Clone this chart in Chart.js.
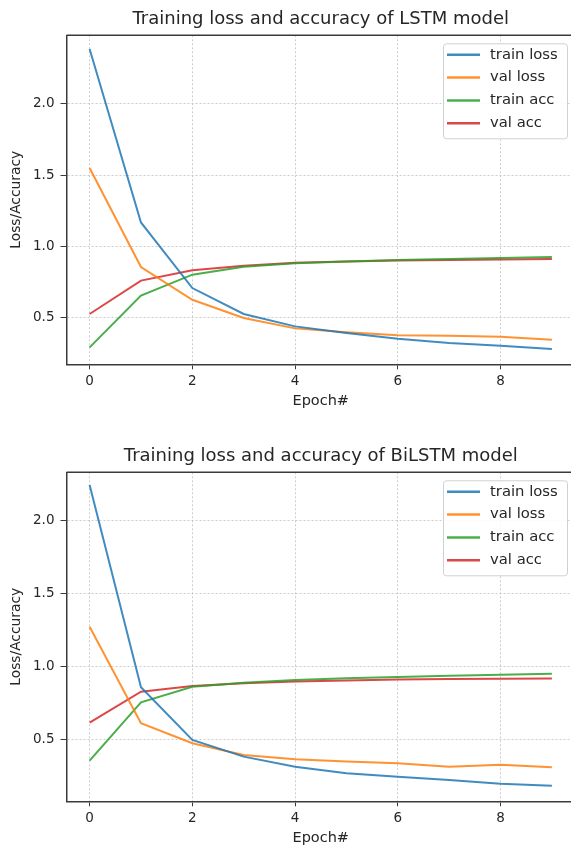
<!DOCTYPE html>
<html>
<head>
<meta charset="utf-8">
<script src="https://cdn.jsdelivr.net/npm/chart.js@4.4.1/dist/chart.umd.min.js"></script>
<style>
  html, body { margin:0; padding:0; background:#fff; width:571px; height:848px; overflow:hidden; position:relative; }
  #wrap { position:absolute; left:0; top:0; width:571px; height:848px; overflow:hidden; }
  canvas { position:absolute; left:0; }
</style>
</head>
<body>
<div id="wrap">
  <canvas id="lstmChart" width="642" height="411" style="top:0"></canvas>
  <canvas id="bilstmChart" width="642" height="411" style="top:437px"></canvas>
</div>
<script>
const EPOCHS = [0, 1, 2, 3, 4, 5, 6, 7, 8, 9];
const SERIES = ["train loss", "val loss", "train acc", "val acc"];
const X_TICKS = [0, 2, 4, 6, 8];
const Y_TICKS = [0.5, 1.0, 1.5, 2.0];

// LSTM
const lstmTrainLoss = [2.385, 1.168, 0.708, 0.526, 0.439, 0.393, 0.353, 0.323, 0.303, 0.281];
const lstmValLoss   = [1.550, 0.855, 0.626, 0.498, 0.425, 0.397, 0.376, 0.374, 0.366, 0.346];
const lstmTrainAcc  = [0.292, 0.655, 0.802, 0.858, 0.882, 0.895, 0.905, 0.912, 0.918, 0.925];
const lstmValAcc    = [0.526, 0.760, 0.832, 0.865, 0.885, 0.895, 0.902, 0.905, 0.908, 0.912];

// BiLSTM
const bilstmTrainLoss = [2.242, 0.856, 0.495, 0.381, 0.312, 0.267, 0.244, 0.221, 0.196, 0.182];
const bilstmValLoss   = [1.271, 0.610, 0.473, 0.392, 0.363, 0.347, 0.336, 0.312, 0.326, 0.308];
const bilstmTrainAcc  = [0.354, 0.753, 0.860, 0.888, 0.906, 0.918, 0.926, 0.935, 0.942, 0.948];
const bilstmValAcc    = [0.614, 0.826, 0.865, 0.884, 0.895, 0.903, 0.909, 0.913, 0.915, 0.917];

const LINE_COLORS = ["rgba(31,119,180,0.85)", "rgba(255,127,14,0.85)", "rgba(44,160,44,0.85)", "rgba(214,39,40,0.85)"];
const TEXT = "#262626";
const SPINE = "#3a3a3a";
const FONT = "'DejaVu Sans', sans-serif";
const GRID = "rgba(185,185,185,0.9)";

// title over the plot, top spine, and the matplotlib-style legend box
const frameLegend = {
  id: "frameLegend",
  afterDraw(chart) {
    const { ctx, chartArea: a } = chart;
    ctx.save();
    ctx.fillStyle = TEXT;
    ctx.font = "18px " + FONT;
    ctx.textAlign = "center";
    ctx.textBaseline = "middle";
    ctx.fillText(chart.options.plotTitle, (a.left + a.right) / 2, a.top - 16);

    ctx.strokeStyle = SPINE;
    ctx.lineWidth = 1.5;
    ctx.beginPath();
    ctx.moveTo(a.left, a.top); ctx.lineTo(a.right + 2, a.top);
    ctx.stroke();

    const w = 124, h = 95, x = a.right - 8 - w, y = a.top + 8, r = 3;
    ctx.fillStyle = "rgba(255,255,255,0.85)";
    ctx.strokeStyle = "#d0d0d0";
    ctx.lineWidth = 1;
    ctx.beginPath();
    ctx.roundRect(x + 0.5, y + 0.5, w, h, r);
    ctx.fill(); ctx.stroke();

    ctx.font = "14.8px " + FONT;
    ctx.textAlign = "left";
    ctx.fillStyle = TEXT;
    chart.data.datasets.forEach((ds, i) => {
      const ry = y + 11.5 + i * 22.8;
      ctx.strokeStyle = ds.borderColor;
      ctx.lineWidth = 2.5;
      ctx.beginPath();
      ctx.moveTo(x + 4, ry); ctx.lineTo(x + 37, ry);
      ctx.stroke();
      ctx.fillText(ds.label, x + 47, ry);
    });
    ctx.restore();
  }
};

function makeChart(id, title, values, yMin, yMax) {
  return new Chart(document.getElementById(id), {
    type: "line",
    data: {
      datasets: SERIES.map((name, i) => ({
        label: name,
        data: values[i].map((v, k) => ({ x: EPOCHS[k], y: v })),
        borderColor: LINE_COLORS[i],
        borderWidth: 2,
        pointRadius: 0,
        tension: 0,
        fill: false
      }))
    },
    options: {
      plotTitle: title,
      responsive: false,
      animation: false,
      layout: { padding: { left: 0, right: 67, top: 35.3, bottom: 0 } },
      plugins: {
        legend: { display: false },
        tooltip: { enabled: false },
        title: { display: false }
      },
      scales: {
        x: {
          type: "linear", min: -0.45, max: 9.45,
          afterBuildTicks: s => { s.ticks = X_TICKS.map(v => ({ value: v })); },
          afterFit: s => { s.height = 46.7; },
          ticks: { color: TEXT, font: { family: FONT, size: 13.5 }, padding: 4, maxRotation: 0 },
          grid: { color: GRID, lineWidth: 0.8,
                  tickColor: SPINE, tickLength: 5, tickWidth: 1, tickBorderDash: [] },
          border: { color: SPINE, width: 1.5, dash: [2, 2] },
          title: { display: true, text: "Epoch#", color: TEXT,
                   font: { family: FONT, size: 14.5 }, padding: { top: 0, bottom: 1.3 } }
        },
        y: {
          type: "linear", min: yMin, max: yMax,
          afterBuildTicks: s => { s.ticks = Y_TICKS.map(v => ({ value: v })); },
          afterFit: s => { s.width = 66.5; },
          ticks: { color: TEXT, font: { family: FONT, size: 13.5 }, padding: 6,
                   callback: v => v.toFixed(1) },
          grid: { color: GRID, lineWidth: 0.8,
                  tickColor: SPINE, tickLength: 6, tickWidth: 1, tickBorderDash: [] },
          border: { color: SPINE, width: 1.5, dash: [2, 2] },
          title: { display: true, text: "Loss/Accuracy", color: TEXT,
                   font: { family: FONT, size: 13.8 }, padding: { top: 8.4, bottom: 0 } }
        }
      }
    },
    plugins: [frameLegend]
  });
}

makeChart("lstmChart", "Training loss and accuracy of LSTM model",
  [lstmTrainLoss, lstmValLoss, lstmTrainAcc, lstmValAcc], 0.173, 2.481);
makeChart("bilstmChart", "Training loss and accuracy of BiLSTM model",
  [bilstmTrainLoss, bilstmValLoss, bilstmTrainAcc, bilstmValAcc], 0.075, 2.329);
</script>
</body>
</html>
